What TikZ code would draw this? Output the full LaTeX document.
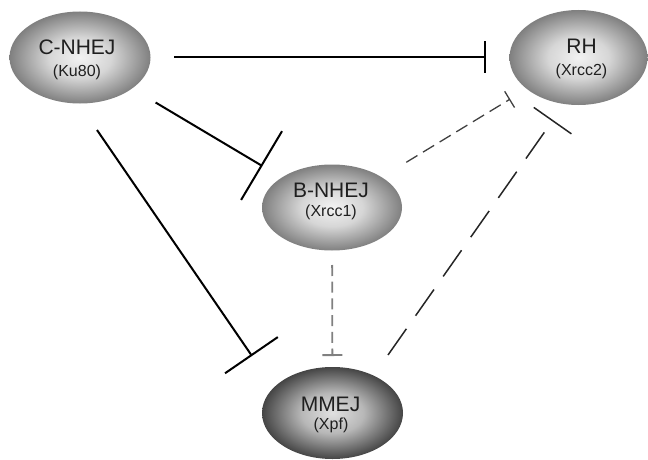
\documentclass[tikz,border=0pt]{standalone}
\usepackage{fontspec}
\setmainfont{Liberation Sans}
\usetikzlibrary{shapes.geometric,arrows.meta,calc}
\definecolor{lin}{gray}{0.95}
\definecolor{lmid}{gray}{0.84}
\definecolor{lout}{gray}{0.50}
\definecolor{din}{gray}{0.88}
\definecolor{dmid}{gray}{0.72}
\definecolor{dout}{gray}{0.27}
\pgfdeclareradialshading{balllight}{\pgfpoint{0bp}{0bp}}{color(0bp)=(lin); color(11bp)=(lmid); color(25bp)=(lout); color(50bp)=(lout)}
\pgfdeclareradialshading{balldark}{\pgfpoint{0bp}{0bp}}{color(0bp)=(din); color(11bp)=(dmid); color(25bp)=(dout); color(50bp)=(dout)}
\tikzset{
  ball/.style={ellipse, inner sep=0pt, minimum width=141pt, minimum height=92pt},
  lightball/.style={ball, shading=balllight},
  darkball/.style={ball, shading=balldark},
  bigtxt/.style={font=\fontsize{21}{24}\selectfont, inner sep=0pt, anchor=base, text=black!88},
  smalltxt/.style={font=\fontsize{16}{19}\selectfont, inner sep=0pt, anchor=base, text=black!88},
  inh/.style={line width=2pt, black},
  dshort/.style={line width=1.3pt, black!75, dash pattern=on 13pt off 6.5pt},
  dgray/.style={line width=1.8pt, black!50, dash pattern=on 11pt off 5.7pt},
  dlong/.style={line width=1.5pt, black!85, dash pattern=on 32pt off 16pt},
}
\begin{document}
\begin{tikzpicture}[x=1pt,y=-1pt]
\useasboundingbox (0,0) rectangle (648,460);
% nodes
\node[lightball] (cn) at (80,57.5) {};
\node[lightball, minimum width=138pt, minimum height=95pt] (rh) at (578.5,57.5) {};
\node[lightball, minimum width=140pt, minimum height=86pt] (bn) at (332,207.5) {};
\node[darkball, minimum width=141pt, minimum height=92pt] (mm) at (332.5,413) {};
% labels
\node[bigtxt] (cnt) at ($(cn.center)+(-3,-2.5)$) {C-NHEJ};
\node[smalltxt] (cns) at ($(cn.center)+(-3,19)$) {(Ku80)};
\node[bigtxt] (rht) at ($(rh.center)+(3,-3.5)$) {RH};
\node[smalltxt] (rhs) at ($(rh.center)+(3,18)$) {(Xrcc2)};
\node[bigtxt] (bnt) at ($(bn.center)+(-1,-10.5)$) {B-NHEJ};
\node[smalltxt] (bns) at ($(bn.center)+(-1,8.5)$) {(Xrcc1)};
\node[bigtxt] (mmt) at ($(mm.center)+(-2,-2)$) {MMEJ};
\node[smalltxt] (mms) at ($(mm.center)+(-1.5,16)$) {(Xpf)};
% connectors
\draw[inh, -{Bar[width=32pt]}, shorten <=94pt, shorten >=93pt] (cn.center) -- (rh.center);
\draw[inh, -{Bar[width=80pt]}, shorten <=88pt, shorten >=81pt] (cn.center) -- (bn.center);
\draw[inh, -{Bar[width=64pt]}] ($(cn.center)+(17,72.5)$) -- ($(mm.center)+(-80.5,-57)$);
\draw[dshort, -{Bar[width=19pt]}, shorten <=87pt, shorten >=80pt] (bn.center) -- (rh.center);
\draw[dgray, -{Bar[width=20pt]}, shorten <=57.5pt, shorten >=57pt] (bn.center) -- (mm.center);
\draw[dlong, -{Bar[width=46pt]}] ($(mm.center)+(55.5,-58)$) -- ($(rh.center)+(-25.5,62.5)$);
\end{tikzpicture}
\end{document}
